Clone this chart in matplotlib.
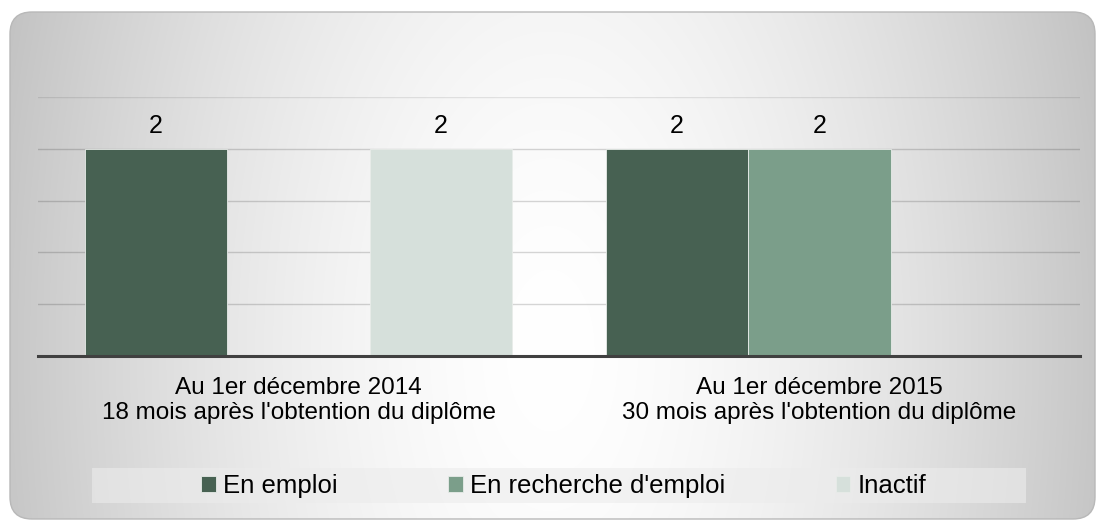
import numpy as np
import matplotlib
matplotlib.use("Agg")
import matplotlib.pyplot as plt
from matplotlib.patches import FancyBboxPatch, Rectangle, Patch

plt.rcParams['font.family'] = ['Liberation Sans', 'DejaVu Sans']

categories = ["Au 1er décembre 2014\n18 mois après l'obtention du diplôme",
              "Au 1er décembre 2015\n30 mois après l'obtention du diplôme"]
series_names = ["En emploi", "En recherche d'emploi", "Inactif"]
en_emploi = [2, 2]
en_recherche = [0, 2]
inactif = [2, 0]
colors = ["#476152", "#7b9e8a", "#d6e0db"]

W, H = 1097, 521
fig = plt.figure(figsize=(W / 100, H / 100), dpi=100)

# background panel with a radial gradient
bg = fig.add_axes([0, 0, 1, 1])
bg.set_xlim(0, W)
bg.set_ylim(H, 0)
bg.axis("off")
xx, yy = np.meshgrid(np.arange(W), np.arange(H))
d = np.sqrt(((xx - 550) / 545.0) ** 2 + ((yy - 350) / 1000.0) ** 2)
val = 255 - 56 * np.clip(d, 0, 1.2) ** 1.6
img = np.dstack([val, val, val]).astype(np.uint8)
box = FancyBboxPatch((10, 12), 1085, 507, boxstyle="round,pad=0,rounding_size=22",
                     facecolor="none", edgecolor="#b8b8b8", linewidth=1.0)
bg.add_patch(box)
im = bg.imshow(img, extent=(0, W, H, 0), zorder=0)
im.set_clip_path(box)

# legend band
bg.add_patch(Rectangle((92, 468), 934, 35, facecolor="#ececec", alpha=0.6,
                       edgecolor="none", zorder=1))

ax = fig.add_axes([38 / W, 1 - 356 / H, 1042 / W, 259 / H])
ax.patch.set_alpha(0)
x = np.arange(len(categories))
w = 0.2735
all_vals = [en_emploi, en_recherche, inactif]
for i, (vals, name, c) in enumerate(zip(all_vals, series_names, colors)):
    bars = ax.bar(x + (i - 1) * w, vals, w, color=c, edgecolor="#e8ece9",
                  linewidth=0.6, label=name, zorder=3)
    ax.bar_label(bars, labels=[str(v) if v else "" for v in vals],
                 padding=8, fontsize=18, color="black")

ax.set_xlim(-0.5, 1.5)
ax.set_ylim(0, 2.5)
ax.set_yticks([0.5, 1, 1.5, 2])
ax.yaxis.grid(True, color="black", alpha=0.16, linewidth=1.0, zorder=0)
ax.axhline(2.5, color="black", alpha=0.09, linewidth=1.0, zorder=0)
ax.tick_params(axis="y", length=0, labelleft=False)
ax.set_xticks(x)
ax.set_xticklabels(categories, fontsize=17.5, linespacing=1.2)
ax.tick_params(axis="x", length=0, pad=15)
for s in ["top", "right", "left"]:
    ax.spines[s].set_visible(False)
ax.spines["bottom"].set_color("#404040")
ax.spines["bottom"].set_linewidth(2.2)
ax.spines["bottom"].set_zorder(4)

handles = [Patch(facecolor=c, edgecolor="#e8ece9", linewidth=0.6) for c in colors]
fig.legend(handles, series_names, loc="center", bbox_to_anchor=(564 / W, 1 - 486 / H),
           ncol=3, frameon=False, fontsize=18.5, handlelength=0.55, handleheight=0.55,
           handletextpad=0.3, columnspacing=4.3)

fig.savefig("out.png", dpi=100)
